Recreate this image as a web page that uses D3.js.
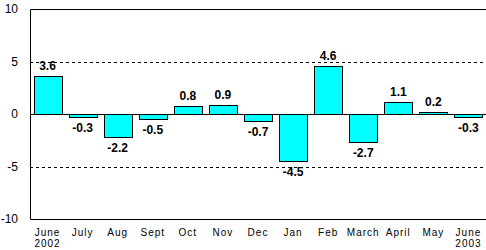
<!DOCTYPE html>
<meta charset="utf-8">
<style>
body { margin: 0; background: #fff; }
svg { font-family: "Liberation Sans", Arial, sans-serif; }
.bar { fill: #00ffff; stroke: #000; stroke-width: 1; }
.value-label { font-weight: bold; font-size: 12px; fill: #000; }
.y-label { font-size: 12px; fill: #000; }
.x-label { font-size: 10px; fill: #000; letter-spacing: 1px; }
.grid { stroke: #000; stroke-dasharray: 3,3; }
.frame { stroke: #000; stroke-width: 1; }
</style>
<body>
<script src="https://cdn.jsdelivr.net/npm/d3@7"></script>
<script>

var months = ['June', 'July', 'Aug', 'Sept', 'Oct', 'Nov', 'Dec', 'Jan', 'Feb', 'March', 'April', 'May', 'June'];
var years = ['2002', '', '', '', '', '', '', '', '', '', '', '', '2003'];
var values = [3.6, -0.3, -2.2, -0.5, 0.8, 0.9, -0.7, -4.5, 4.6, -2.7, 1.1, 0.2, -0.3];
var yTicks = [10, 5, 0, -5, -10];
var gridTicks = [5, -5];

var width = 486,
    height = 250,
    plotLeft = 30,
    plotRight = 486,
    plotTop = 9,
    plotBottom = 219;

var keys = d3.range(months.length);

var x = d3.scaleBand()
    .domain(keys)
    .range([plotLeft, plotRight])
    .paddingInner(0.2)
    .paddingOuter(0.1);

var y = d3.scaleLinear()
    .domain([-10, 10])
    .range([plotBottom, plotTop]);

var svg = d3.select('body').append('svg')
    .attr('width', width)
    .attr('height', height);

// dashed gridlines
svg.selectAll('.grid')
    .data(gridTicks).enter()
    .append('line')
    .attr('class', 'grid')
    .attr('x1', plotLeft)
    .attr('x2', plotRight)
    .attr('y1', d => Math.round(y(d)) + 0.5)
    .attr('y2', d => Math.round(y(d)) + 0.5);

// bars
svg.selectAll('.bar')
    .data(values).enter()
    .append('rect')
    .attr('class', 'bar')
    .attr('x', (d, i) => Math.round(x(i)) + 0.5)
    .attr('width', Math.round(x.bandwidth()))
    .attr('y', d => Math.round(y(Math.max(0, d))) + 0.5)
    .attr('height', d => Math.max(1, Math.round(Math.abs(y(d) - y(0)))));

// frame: top, bottom, zero line, left axis
var frame = [
    [plotLeft, y(10), plotRight, y(10)],
    [plotLeft, y(-10), plotRight, y(-10)],
    [plotLeft, y(0), plotRight, y(0)],
    [plotLeft, y(10), plotLeft, y(-10)]
];
svg.selectAll('.frame')
    .data(frame).enter()
    .append('line')
    .attr('class', 'frame')
    .attr('x1', d => Math.round(d[0]) + 0.5)
    .attr('y1', d => Math.round(d[1]) + 0.5)
    .attr('x2', d => Math.round(d[2]) + 0.5)
    .attr('y2', d => Math.round(d[3]) + 0.5);

// value labels
svg.selectAll('.value-label')
    .data(values).enter()
    .append('text')
    .attr('class', 'value-label')
    .attr('text-anchor', 'middle')
    .attr('x', (d, i) => x(i) + x.bandwidth() / 2)
    .attr('y', d => d >= 0 ? y(d) - 6 : y(d) + 15)
    .text(d => d.toFixed(1));

// y tick labels
svg.selectAll('.y-label')
    .data(yTicks).enter()
    .append('text')
    .attr('class', 'y-label')
    .attr('text-anchor', 'end')
    .attr('x', 18)
    .attr('y', d => y(d) + 4)
    .text(d => d);

// x labels
var xl = svg.selectAll('.x-label')
    .data(keys).enter()
    .append('text')
    .attr('class', 'x-label')
    .attr('text-anchor', 'middle')
    .attr('x', i => x(i) + x.bandwidth() / 2)
    .attr('y', 236);
xl.append('tspan').text(i => months[i]);
xl.append('tspan')
    .attr('x', i => x(i) + x.bandwidth() / 2)
    .attr('dy', 11)
    .text(i => years[i]);

</script>
